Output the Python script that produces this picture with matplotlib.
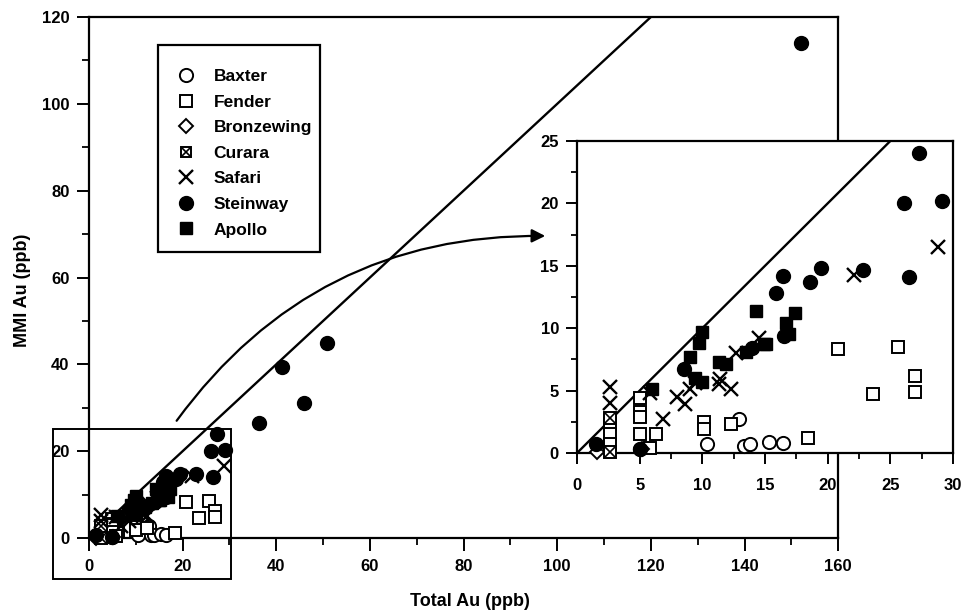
import matplotlib
matplotlib.use('Agg')
import matplotlib.pyplot as plt
from matplotlib.lines import Line2D
from matplotlib.patches import Rectangle, FancyArrowPatch
from matplotlib.legend_handler import HandlerTuple

plt.rcParams['font.family'] = ['Liberation Sans', 'DejaVu Sans']
plt.rcParams['font.weight'] = 'bold'

# Total Au vs MMI Au (ppb) by prospect
baxter_x = [12.9, 10.4, 13.3, 13.8, 15.3, 16.4, 5.0]
baxter_y = [2.7, 0.7, 0.6, 0.7, 0.9, 0.8, 0.3]

fender_x = [20.8, 25.6, 27.0, 27.0, 23.6, 18.4, 10.1, 10.1, 12.3, 6.3,
            5.0, 5.0, 5.0, 5.0, 5.8, 2.6, 2.6, 2.6]
fender_y = [8.3, 8.5, 6.2, 4.9, 4.7, 1.2, 2.5, 1.9, 2.3, 1.5,
            4.4, 3.3, 2.9, 1.5, 0.4, 2.3, 1.5, 0.7]

bronzewing_x = [1.6, 5.2]
bronzewing_y = [0.05, 0.3]

curara_x = [2.6, 2.6]
curara_y = [2.8, 0.1]

safari_x = [28.8, 22.1, 14.5, 12.7, 11.4, 12.3, 11.3, 8.0, 8.6, 9.0,
            9.4, 6.9, 5.8, 2.6, 2.6]
safari_y = [16.5, 14.3, 9.2, 8.0, 5.9, 5.1, 5.5, 4.5, 3.9, 5.1,
            5.6, 2.7, 4.8, 5.3, 4.0]

steinway_x = [27.3, 26.1, 29.1, 26.5, 22.8, 19.5, 18.6, 16.4, 15.9, 16.5,
              14.0, 8.5, 1.5, 5.0, 36.3, 41.2, 45.9, 50.9, 152.0]
steinway_y = [24.0, 20.0, 20.2, 14.1, 14.7, 14.85, 13.7, 14.2, 12.8, 9.4,
              8.4, 6.7, 0.7, 0.3, 26.5, 39.5, 31.0, 45.0, 114.0]

apollo_x = [14.3, 17.4, 16.7, 16.9, 10.0, 9.7, 9.0, 9.4, 10.0, 11.3,
            11.9, 13.5, 14.9, 15.1, 6.0]
apollo_y = [11.4, 11.2, 10.4, 9.5, 9.7, 8.8, 7.7, 6.0, 5.7, 7.3,
            7.1, 8.1, 8.7, 8.7, 5.1]

open_style = dict(linestyle='none', mfc='white', mec='black', mew=1.4)
filled_style = dict(linestyle='none', mfc='black', mec='black', mew=1.0)

series = [
    ('Baxter', baxter_x, baxter_y, dict(marker='o', ms=9.5, **open_style)),
    ('Fender', fender_x, fender_y, dict(marker='s', ms=8, **open_style)),
    ('Bronzewing', bronzewing_x, bronzewing_y, dict(marker='D', ms=7.5, **open_style)),
    ('Curara', curara_x, curara_y, dict(marker='s', ms=8, **open_style)),
    ('Safari', safari_x, safari_y, dict(marker='x', ms=10, linestyle='none', color='black', mew=1.7)),
    ('Steinway', steinway_x, steinway_y, dict(marker='o', ms=10, **filled_style)),
    ('Apollo', apollo_x, apollo_y, dict(marker='s', ms=8.5, **filled_style)),
]
cross_style = dict(marker='x', ms=7, linestyle='none', color='black', mew=1.2)


def draw_points(ax):
    for name, xs, ys, st in series:
        ax.plot(xs, ys, clip_on=False, zorder=3, **st)
        if name == 'Curara':
            ax.plot(xs, ys, clip_on=False, zorder=3, **cross_style)


def style_axes(ax, major, minor, lmaj, lmin, xpad, ypad):
    for s in ax.spines.values():
        s.set_linewidth(1.6)
    ax.xaxis.set_major_locator(plt.MultipleLocator(major[0]))
    ax.xaxis.set_minor_locator(plt.MultipleLocator(minor[0]))
    ax.yaxis.set_major_locator(plt.MultipleLocator(major[1]))
    ax.yaxis.set_minor_locator(plt.MultipleLocator(minor[1]))
    ax.tick_params(which='major', direction='out', length=lmaj, width=1.4,
                   labelsize=12, top=False, right=False)
    ax.tick_params(axis='x', which='major', pad=xpad)
    ax.tick_params(axis='y', which='major', pad=ypad)
    ax.tick_params(which='minor', direction='out', length=lmin, width=1.3,
                   top=False, right=False)


fig = plt.figure(figsize=(9.63, 6.13), dpi=100)

# main panel
ax = fig.add_axes([0.0924, 0.1223, 0.778, 0.850])
ax.set_xlim(0, 160)
ax.set_ylim(0, 120)
style_axes(ax, (20, 20), (10, 10), 9, 5, 6, 5)
ax.plot([0, 160], [0, 160], color='black', lw=1.7, zorder=2)
draw_points(ax)
ax.set_xlabel('Total Au (ppb)', fontsize=13, fontweight='bold')
ax.set_ylabel('MMI Au (ppb)', fontsize=13, fontweight='bold')
ax.xaxis.set_label_coords(0.509, -0.105)
ax.yaxis.set_label_coords(-0.077, 0.476)

# box around the enlarged region
ax.add_patch(Rectangle((-7.7, -9.4), 38.0, 34.4, fill=False, lw=1.4,
                       edgecolor='black', clip_on=False, zorder=4))

# legend, with its own frame
handles = []
for name, xs, ys, st in series:
    h = Line2D([], [], **st)
    if name == 'Curara':
        h = (Line2D([], [], **dict(st, ms=7)), Line2D([], [], **dict(cross_style, ms=6)))
    handles.append(h)
labels = [s[0] for s in series]
leg = ax.legend(handles, labels, loc='upper left',
                bbox_to_anchor=(177 / 963, 1 - 69 / 613),
                bbox_transform=fig.transFigure, frameon=False,
                fontsize=12.5, borderpad=0, labelspacing=0.6,
                handlelength=1.0, handletextpad=1.1, borderaxespad=0,
                handler_map={tuple: HandlerTuple(ndivide=1)})
for t in leg.get_texts():
    t.set_fontweight('bold')
fig.add_artist(Rectangle((158 / 963, 1 - 252 / 613), 162 / 963, 207 / 613,
                         transform=fig.transFigure, fill=False, lw=1.6,
                         edgecolor='black', zorder=6))

# enlarged panel
axi = fig.add_axes([0.5992, 0.2610, 0.3904, 0.509])
axi.set_facecolor('white')
axi.set_xlim(0, 30)
axi.set_ylim(0, 25)
style_axes(axi, (5, 5), (2.5, 2.5), 8, 4.5, 10, 5)
axi.plot([0, 25], [0, 25], color='black', lw=1.7, zorder=2)
draw_points(axi)

# curved arrow pointing from the small box to the enlarged panel
fig.add_artist(FancyArrowPatch(
    (175 / 963, 190 / 613), (548 / 963, 377 / 613),
    transform=fig.transFigure, arrowstyle='-|>', mutation_scale=20,
    connectionstyle='arc3,rad=-0.26', lw=1.6, color='black', zorder=5))

fig.savefig('out.png', dpi=100)
